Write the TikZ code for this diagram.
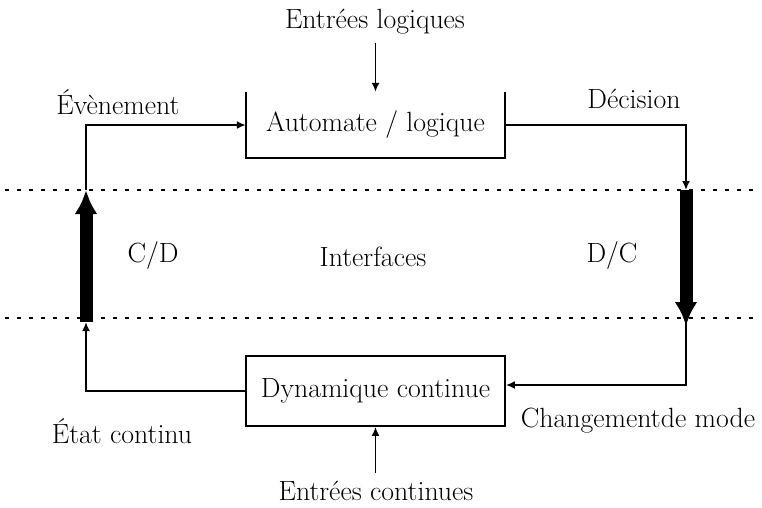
\documentclass[tikz,border=0pt]{standalone}
\usepackage{fontspec}
\usetikzlibrary{arrows.meta}
\begin{document}
\begin{tikzpicture}[x=1pt,y=-1pt,
  lbl/.style={inner sep=0pt,font=\fontsize{27.8}{32}\selectfont},
  thinline/.style={line width=1.8pt},
  thinarrow/.style={line width=1.8pt,-{Latex[length=9pt,width=8pt]}},
  thickarrow/.style={line width=13pt,-{Latex[length=24pt,width=23pt]}},
  dotline/.style={line width=2pt,dash pattern=on 4pt off 8pt}]
\useasboundingbox (0,0) rectangle (762,507);
% dotted interface lines
\coordinate (d1a) at (5,190);
\coordinate (d1b) at (755,190);
\coordinate (d2a) at (5,318);
\coordinate (d2b) at (755,318);
\draw[dotline] (d1a) -- (d1b);
\draw[dotline] (d2a) -- (d2b);
% boxes
\node[lbl,minimum width=259pt,minimum height=66pt] (auto) at (375.5,125) {Automate / logique};
\draw[thinline] (auto.north west) -- (auto.south west) -- (auto.south east) -- (auto.north east);
\node[lbl,draw,thinline,minimum width=259pt,minimum height=70pt] (dyn) at (375.5,391) {Dynamique continue};
% labels
\node[lbl] (el) at (375,22) {Entrées logiques};
\node[lbl] (ec) at (376,491) {Entrées continues};
\node[lbl] (ev) at (118,102) {Évènement};
\node[lbl] (de) at (634,99) {Décision};
\node[lbl] (cd) at (153,256) {C/D};
\node[lbl] (itf) at (373,257) {Interfaces};
\node[lbl] (dc) at (612,256) {D/C};
\node[lbl] (etat) at (122,431) {État continu};
\node[lbl] (chg) at (638,421) {Changementde mode};
% coordinates of converters
\coordinate (cL1) at (86,190);
\coordinate (cL2) at (86,322);
\coordinate (cR1) at (686,190);
\coordinate (cR2) at (686,322);
% inputs
\draw[thinarrow,shorten <=8pt] (el.south -| auto.north) -- (auto.north);
\draw[thinarrow,shorten <=8pt] (ec.north -| dyn.south) -- (dyn.south);
% left loop
\draw[thinarrow] (dyn.west) -| (cL2);
\draw[thickarrow] (cL2) -- (cL1);
\draw[thinarrow] (cL1) |- (auto.west);
% right loop
\draw[thinarrow] (auto.east) -| (cR1);
\draw[thickarrow] (cR1) -- ([yshift=-4pt]cR2);
\draw[thinarrow] (cR2) |- ([yshift=6pt]dyn.east);
\end{tikzpicture}
\end{document}
